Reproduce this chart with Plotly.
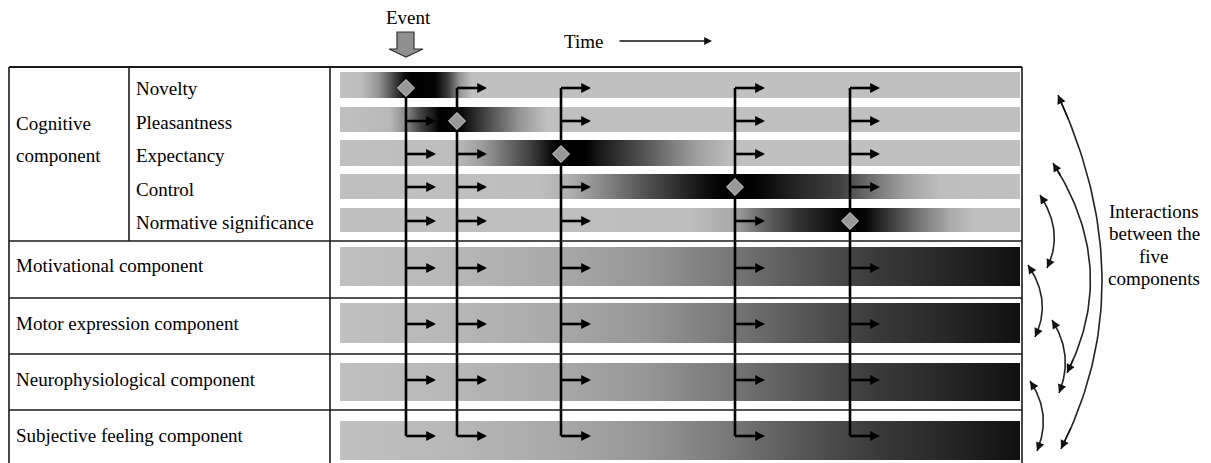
import numpy as np
import plotly.graph_objects as go

W, H = 1211, 463

# ---------------- data ----------------
check_names = ["Novelty", "Pleasantness", "Expectancy", "Control", "Normative significance"]
cognitive_label = ["Cognitive", "component"]
component_names = ["Motivational component", "Motor expression component",
                   "Neurophysiological component", "Subjective feeling component"]
interaction_label = ["Interactions", "between the", "five", "components"]

# time (x position) at which each appraisal check is completed
check_time = [406, 457, 561, 735, 850]

# time span of the bars
time_start, time_end = 340, 1020

# row geometry (9 rows: 5 appraisal checks + 4 other components)
bar_top = [72, 107, 140, 174, 208, 247, 303, 363, 421]
bar_bottom = [98, 132, 166, 199, 232, 286, 343, 401, 460]
signal_y = [88, 121, 154, 187, 221, 268, 324, 380, 436]
label_y = [88, 122, 155, 189, 222, 265, 323, 379, 435]
cog_label_y = [123, 155]

# activation profiles: (time, gray level 0=black .. 192=light)
profiles = [
    [(340, 192), (360, 190), (378, 150), (392, 80), (405, 10), (412, 0), (436, 5), (448, 60), (460, 150), (472, 192), (1020, 192)],
    [(340, 192), (390, 185), (405, 140), (420, 70), (440, 0), (462, 10), (490, 80), (520, 150), (547, 192), (1020, 192)],
    [(340, 192), (455, 189), (480, 160), (497, 128), (530, 64), (547, 24), (557, 0), (585, 0), (600, 25), (630, 64), (663, 112), (697, 160), (730, 188), (740, 192), (1020, 192)],
    [(340, 192), (540, 190), (570, 175), (600, 140), (635, 95), (670, 55), (705, 15), (725, 0), (752, 0), (800, 40), (840, 64), (870, 110), (905, 160), (940, 190), (1020, 192)],
    [(340, 192), (690, 190), (730, 170), (765, 100), (800, 48), (833, 16), (850, 0), (865, 5), (885, 48), (915, 110), (950, 170), (975, 192), (1020, 192)],
]
component_profile = [(340, 192), (450, 184), (560, 168), (650, 149), (730, 119), (800, 88),
                     (870, 60), (950, 38), (1020, 16)]
profiles += [component_profile] * 4

# table structure
table_left, table_col1, table_col2, table_right = 9, 129, 330, 1022
table_top = 67
section_lines = [241, 298, 354, 410]

# interaction arcs: (top end, bulge point, bottom end)
arcs = [
    ((1058, 95), (1102, 278), (1061, 449)),
    ((1053, 163), (1090, 268), (1067, 373)),
    ((1040, 195), (1054, 232), (1047, 268)),
    ((1028, 265), (1042, 301), (1035, 337)),
    ((1052, 320), (1065, 356), (1059, 393)),
    ((1030, 381), (1043, 415), (1037, 451)),
]

FONT = "Liberation Serif, Times New Roman, serif"
TXT = "#000000"


def gray(v):
    return f"rgb({v},{v},{v})"


fig = go.Figure()

# ---------------- bars with gradients ----------------
for r in range(9):
    cs = [[(t - time_start) / (time_end - time_start), gray(v)] for t, v in profiles[r]]
    fig.add_trace(go.Scatter(
        x=[time_start, time_end, time_end, time_start, time_start],
        y=[bar_top[r], bar_top[r], bar_bottom[r], bar_bottom[r], bar_top[r]],
        mode="lines", line=dict(width=0), fill="toself",
        fillgradient=dict(type="horizontal", colorscale=cs, start=time_start, stop=time_end),
        hoverinfo="skip", showlegend=False))

# ---------------- table lines ----------------
shapes = []
def hline(y, x0, x1, w=1.6):
    shapes.append(dict(type="line", x0=x0, x1=x1, y0=y, y1=y, line=dict(color="#1a1a1a", width=w)))
def vline(x, y0, y1, w=1.6):
    shapes.append(dict(type="line", x0=x, x1=x, y0=y0, y1=y1, line=dict(color="#1a1a1a", width=w)))

hline(table_top, table_left, table_right, 2)
for y in section_lines:
    hline(y, table_left, table_right)
vline(table_left, table_top, H + 5)
vline(table_col1, table_top, section_lines[0])
vline(table_col2, table_top, H + 5)
vline(table_right, table_top, H + 5)

# event block arrow
ev_x = check_time[0]
shapes.append(dict(type="path",
                   path=f"M {ev_x-9},32 L {ev_x+8},32 L {ev_x+8},49 L {ev_x+17},49 L {ev_x},57 "
                        f"L {ev_x-17},49 L {ev_x-9},49 Z",
                   fillcolor="#8f8f8f", line=dict(color="#333333", width=1.2)))

# ---------------- check lines and arrows ----------------
annotations = []
stub_len = 30
for i, xc in enumerate(check_time):
    xs, ys = [xc, xc, None], [signal_y[0], signal_y[-1], None]
    for r in range(9):
        if r == i:
            continue
        xs += [xc, xc + stub_len - 4, None]
        ys += [signal_y[r], signal_y[r], None]
        annotations.append(dict(x=xc + stub_len, y=signal_y[r], ax=xc + stub_len - 8, ay=signal_y[r],
                                axref="x", ayref="y", xref="x", yref="y", text="",
                                showarrow=True, arrowhead=2, arrowwidth=2.4, arrowsize=0.82,
                                arrowcolor="#000000"))
    fig.add_trace(go.Scatter(x=xs, y=ys, mode="lines", line=dict(color="#000000", width=2.6),
                             hoverinfo="skip", showlegend=False))

# diamonds
fig.add_trace(go.Scatter(x=check_time, y=[signal_y[i] for i in range(5)], mode="markers",
                         marker=dict(symbol="diamond", size=13, color="#999999",
                                     line=dict(color="#d8d8d8", width=1)),
                         hoverinfo="skip", showlegend=False))

# ---------------- interaction arcs ----------------
t = np.linspace(0, 1, 60)
for p0, m, p2 in arcs:
    p0, m, p2 = np.array(p0, float), np.array(m, float), np.array(p2, float)
    p1 = 2 * m - 0.5 * (p0 + p2)
    pts = ((1 - t)[:, None] ** 2) * p0 + (2 * (1 - t) * t)[:, None] * p1 + (t[:, None] ** 2) * p2
    fig.add_trace(go.Scatter(x=pts[:, 0], y=pts[:, 1], mode="lines",
                             line=dict(color="#222222", width=1.6),
                             hoverinfo="skip", showlegend=False))
    for tip, tail in ((pts[0], pts[4]), (pts[-1], pts[-5])):
        annotations.append(dict(x=tip[0], y=tip[1], ax=tail[0], ay=tail[1],
                                axref="x", ayref="y", xref="x", yref="y", text="",
                                showarrow=True, arrowhead=2, arrowwidth=1.5, arrowsize=1.15,
                                arrowcolor="#111111"))

# ---------------- texts ----------------
def text(s, x, y, xanchor="left", size=19):
    annotations.append(dict(x=x, y=y, xref="x", yref="y", text=s, showarrow=False,
                            xanchor=xanchor, yanchor="middle",
                            font=dict(family=FONT, size=size, color=TXT)))

for name, y in zip(check_names, label_y[:5]):
    text(name, 134, y)
for name, y in zip(cognitive_label, cog_label_y):
    text(name, 14, y)
for name, y in zip(component_names, label_y[5:]):
    text(name, 14, y)
for s, y in zip(interaction_label, [211, 233, 256, 278]):
    text(s, 1154, y, xanchor="center")

text("Event", 408, 17, xanchor="center")
text("Time", 583, 41, xanchor="center")
annotations.append(dict(x=712, y=41, ax=618, ay=41, axref="x", ayref="y", xref="x", yref="y",
                        text="", showarrow=True, arrowhead=2, arrowwidth=1.3, arrowsize=1.2,
                        arrowcolor="#111111"))

fig.update_layout(
    width=W, height=H, margin=dict(l=0, r=0, t=0, b=0),
    paper_bgcolor="white", plot_bgcolor="white",
    xaxis=dict(range=[0, W], visible=False, fixedrange=True),
    yaxis=dict(range=[H, 0], visible=False, fixedrange=True),
    shapes=shapes, annotations=annotations, showlegend=False,
)

fig.write_html("out.html", config={"displayModeBar": False},
               post_script="document.body.style.margin='0px';document.body.style.overflow='hidden';")
